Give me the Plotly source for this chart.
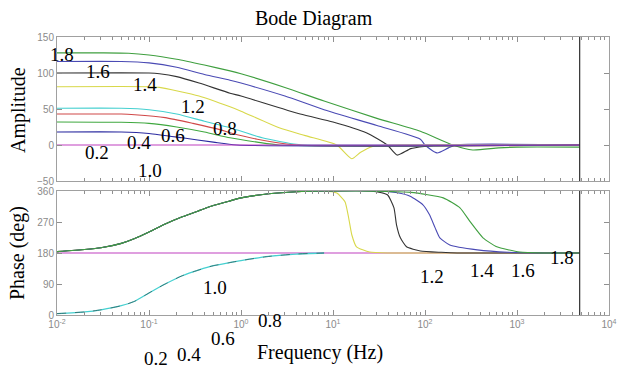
import plotly.graph_objects as go

W, H = 620, 369

# ---------------- data ----------------
series_colors = ["#3f9f3f", "#4a4ab4", "#333333", "#d8d84a", "#45d0d0",
                 "#d04848", "#3fa83f", "#2a2aa0", "#c040c0"]

amp_f_18 = [0.01, 0.03, 0.06, 0.1, 0.2, 0.4, 0.76, 1, 3, 8, 30, 89, 200, 330, 630, 1000, 4800]
amp_v_18 = [128, 128, 127.5, 125, 119, 111, 103, 99, 80, 61, 37, 19, 0, -7, -4, -3, -3]

amp_f_16 = [0.01, 0.05, 0.1, 0.2, 0.4, 0.76, 1, 3, 8, 30, 89, 100, 135, 180, 220, 4800]
amp_v_16 = [116, 116, 114, 108, 98, 90, 86, 68, 49, 27, 8, 0, -11, -4, 0, 0]

amp_f_14 = [0.01, 0.1, 0.13, 0.2, 0.35, 0.76, 1, 4.4, 10, 23, 39, 50, 70, 100, 150, 4800]
amp_v_14 = [100, 100, 99, 95, 86, 72, 68, 43, 32, 17, 0, -14, -5, -2, 0, 0]

amp_f_12 = [0.01, 0.1, 0.13, 0.35, 0.76, 1, 2.6, 5, 11, 16, 20, 27, 40, 4800]
amp_v_12 = [81, 81, 80, 68, 53, 47, 24, 13, 0, -19, -10, -2, 0, 0]

amp_f_c = [0.01, 0.05, 0.1, 0.2, 0.4, 0.76, 1.7, 4, 6, 4800]
amp_v_c = [51, 51, 49, 43, 33, 24, 10, 1, 0, 0]

amp_f_r = [0.01, 0.05, 0.07, 0.15, 0.3, 0.6, 0.76, 1.5, 4, 4800]
amp_v_r = [43, 43, 42, 38, 30, 21, 17, 8, 0, 0]

amp_f_g = [0.01, 0.05, 0.1, 0.2, 0.4, 0.76, 1.5, 2.6, 4800]
amp_v_g = [32, 31.5, 30, 25, 18, 10, 4, 0, 0]

amp_f_b = [0.01, 0.05, 0.1, 0.23, 0.5, 0.9, 4800]
amp_v_b = [18, 18, 16, 10, 4, 0, 0]

amp_f_m = [0.01, 4800]
amp_v_m = [0, 0]

rise_f = [0.01, 0.02, 0.03, 0.05, 0.07, 0.1, 0.15, 0.23, 0.35, 0.5, 0.75, 1, 2, 4, 8]
rise_v = [184, 190, 195, 208, 222, 241, 264, 285, 303, 318, 331, 340, 352, 358, 360]

ph_f_12 = rise_f + [11, 13.5, 14.8, 16, 18, 25, 40, 4800]
ph_v_12 = rise_v + [354, 329, 282, 233, 198, 183, 180, 180]

ph_f_14 = rise_f + [25, 39, 46, 49, 54, 63, 89, 150, 224, 4800]
ph_v_14 = rise_v + [360, 349, 311, 262, 224, 198, 186, 182, 180, 180]

ph_f_16 = rise_f + [30, 50, 69, 95, 112, 129, 145, 186, 370, 800, 2000, 4800]
ph_v_16 = rise_v + [360, 355, 345, 320, 291, 253, 224, 203, 189, 182, 180, 180]

ph_f_18 = rise_f + [20, 70, 158, 240, 309, 427, 603, 1070, 1900, 4800]
ph_v_18 = rise_v + [360, 356, 340, 311, 271, 224, 198, 183, 180, 180]

low_f = [0.01, 0.02, 0.03, 0.05, 0.07, 0.1, 0.15, 0.23, 0.35, 0.5, 0.75, 1, 2, 4, 8]
low_v = [4, 9, 15, 27, 40, 64, 90, 114, 131, 143, 152, 158, 170, 177, 180]

ph_f_m = [0.01, 4800]
ph_v_m = [180, 180]

amp_tick_vals = [-50, 0, 50, 100, 150]
ph_tick_vals = [0, 90, 180, 270, 360]
freq_tick_vals = [0.01, 0.1, 1, 10, 100, 1000, 10000]
freq_tick_text = ["10<sup>-2</sup>", "10<sup>-1</sup>", "10<sup>0</sup>", "10<sup>1</sup>",
                  "10<sup>2</sup>", "10<sup>3</sup>", "10<sup>4</sup>"]
minor_tick_vals = [m * 10.0 ** e for e in range(-2, 4) for m in range(2, 10)]

labels_top = ["1.8", "1.6", "1.4", "1.2", "0.8", "0.6", "0.4", "0.2", "1.0"]
labels_top_px = [(62, 54), (98, 72), (145, 84), (193, 106), (225, 128),
                 (173, 135), (139, 142), (97, 152), (150, 170)]
labels_bot = ["1.0", "0.8", "0.6", "0.4", "0.2", "1.2", "1.4", "1.6", "1.8"]
labels_bot_px = [(215, 287), (270, 320), (223, 338), (189, 354), (156, 358),
                 (432, 276), (482, 270), (523, 270), (562, 257)]

# ---------------- figure ----------------
def px(x):
    return x / W

def py(y):
    return 1 - y / H

fig = go.Figure()

amp_data = [(amp_f_18, amp_v_18), (amp_f_16, amp_v_16), (amp_f_14, amp_v_14),
            (amp_f_12, amp_v_12), (amp_f_c, amp_v_c), (amp_f_r, amp_v_r),
            (amp_f_g, amp_v_g), (amp_f_b, amp_v_b), (amp_f_m, amp_v_m)]
for (f, v), c in zip(amp_data, series_colors):
    fig.add_trace(go.Scatter(x=f, y=v, mode="lines", xaxis="x", yaxis="y",
                             line=dict(color=c, width=1.1, shape="spline", smoothing=0.6),
                             showlegend=False, hoverinfo="skip"))

fig.add_trace(go.Scatter(x=ph_f_m, y=ph_v_m, mode="lines", xaxis="x2", yaxis="y2",
                         line=dict(color=series_colors[8], width=1.1), showlegend=False))
fig.add_trace(go.Scatter(x=low_f, y=low_v, mode="lines", xaxis="x2", yaxis="y2",
                         line=dict(color=series_colors[4], width=1.3, shape="spline", smoothing=0.6),
                         showlegend=False))
fig.add_trace(go.Scatter(x=low_f, y=low_v, mode="lines", xaxis="x2", yaxis="y2",
                         line=dict(color="#222", width=1, dash="dash", shape="spline", smoothing=0.6),
                         opacity=0.5, showlegend=False))
for (f, v), c in [((ph_f_12, ph_v_12), series_colors[3]), ((ph_f_14, ph_v_14), series_colors[2]),
                  ((ph_f_16, ph_v_16), series_colors[1]), ((ph_f_18, ph_v_18), series_colors[0])]:
    fig.add_trace(go.Scatter(x=f, y=v, mode="lines", xaxis="x2", yaxis="y2",
                             line=dict(color=c, width=1.1, shape="spline", smoothing=0.5),
                             showlegend=False, hoverinfo="skip"))

xdom = [px(57), px(609)]
axis_common = dict(showline=True, linecolor="#a0a0a0", linewidth=1, mirror="ticks",
                   ticks="inside", tickcolor="#909090", ticklen=5, showgrid=False,
                   zeroline=False, automargin=False,
                   tickfont=dict(family="Liberation Sans", size=10, color="#8a8a8a"))
xcommon = dict(axis_common, type="log", range=[-2, 4], tickmode="array",
               tickvals=freq_tick_vals, ticktext=freq_tick_text,
               minor=dict(ticks="inside", ticklen=3, tickcolor="#909090", showgrid=False,
                          tickmode="array", tickvals=minor_tick_vals))

fig.update_layout(
    template="none",
    width=W, height=H, margin=dict(l=0, r=0, t=0, b=0, autoexpand=False),
    paper_bgcolor="white", plot_bgcolor="white",
    xaxis=dict(xcommon, domain=xdom, anchor="y", showticklabels=False),
    yaxis=dict(axis_common, domain=[py(181), py(37)], anchor="x", range=[-50, 150],
               tickvals=amp_tick_vals),
    xaxis2=dict(xcommon, domain=xdom, anchor="y2"),
    yaxis2=dict(axis_common, domain=[py(315), py(191)], anchor="x2", range=[0, 360],
                tickvals=ph_tick_vals),
)

for xr, yr in [("x", "y"), ("x2", "y2")]:
    fig.add_shape(type="line", xref=xr, yref=yr + " domain", x0=4800, x1=4800, y0=0, y1=1,
                  line=dict(color="#303030", width=1.2))

serif = "Liberation Serif"

def note(text, x, y, size, angle=0):
    fig.add_annotation(text=text, x=px(x), y=py(y), xref="paper", yref="paper",
                       xanchor="center", yanchor="middle", showarrow=False,
                       textangle=angle, font=dict(family=serif, size=size, color="black"))

note("Bode Diagram", 314, 19, 20)
note("Amplitude", 18, 110, 20, -90)
note("Phase (deg)", 18, 253, 20, -90)
note("Frequency (Hz)", 320, 352, 20)

for t, (x, y) in zip(labels_top + labels_bot, labels_top_px + labels_bot_px):
    note(t, x, y, 19)

fig.write_html("out.html")
